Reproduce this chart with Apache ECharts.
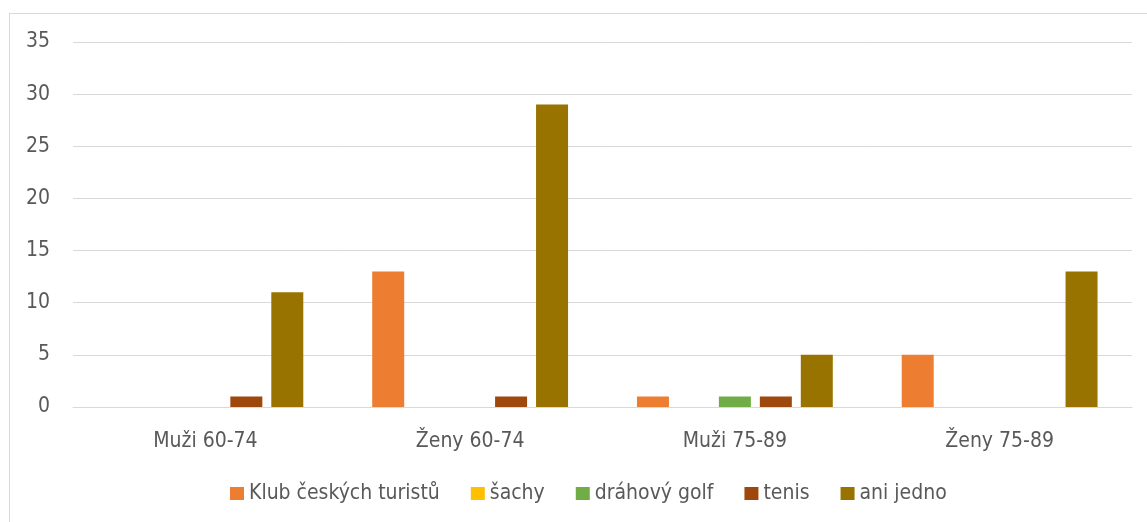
<!DOCTYPE html>
<html>
<head>
<meta charset="utf-8">
<script src="https://cdn.jsdelivr.net/npm/echarts@6/dist/echarts.min.js"></script>
<style>
  html, body { margin: 0; padding: 0; background: #fff; }
  #frame { position: absolute; left: 9px; top: 13px; width: 1200px; height: 600px;
           border-left: 1px solid #d9d9d9; border-top: 1px solid #d9d9d9; }
  #chart { position: absolute; left: 0; top: 0; width: 1147px; height: 522px; }
</style>
</head>
<body>
<div id="frame"></div>
<div id="chart"></div>
<script>
// kategorie
const categories = ["Muži 60-74", "Ženy 60-74", "Muži 75-89", "Ženy 75-89"];
const seriesNames = ["Klub českých turistů", "šachy", "dráhový golf", "tenis", "ani jedno"];
const colors = ["#ED7D31", "#FFC000", "#70AD47", "#9E480E", "#997300"];
// hodnoty
const klub = [0, 13, 1, 5];
const sachy = [0, 0, 0, 0];
const golf = [0, 0, 1, 0];
const tenis = [1, 1, 1, 0];
const aniJedno = [11, 29, 5, 13];
const values = [klub, sachy, golf, tenis, aniJedno];

const font = "'DejaVu Sans Condensed', 'Liberation Sans Narrow', Lato, sans-serif";
const myChart = echarts.init(document.getElementById("chart"));

let option = {
  animation: false,
  grid: { left: 73, right: 15, top: 42, bottom: 115 },
  legend: {
    top: 483,
    left: 230,
    padding: 0,
    icon: "rect",
    itemWidth: 14,
    itemHeight: 13,
    itemGap: 31,
    textStyle: { color: "#595959", fontSize: 21, fontFamily: font },
    data: seriesNames
  },
  xAxis: {
    type: "category",
    data: categories,
    axisTick: { show: false },
    axisLine: { show: true, lineStyle: { color: "#D9D9D9", width: 1 } },
    axisLabel: { color: "#595959", fontSize: 21, fontFamily: font, margin: 24 }
  },
  yAxis: {
    type: "value",
    min: 0,
    max: 35,
    interval: 5,
    axisLine: { show: false },
    axisTick: { show: false },
    axisLabel: { color: "#595959", fontSize: 21, fontFamily: font, margin: 23 },
    splitLine: { show: true, lineStyle: { color: "#D9D9D9", width: 1 } }
  },
  series: seriesNames.map((name, i) => ({
    name: name,
    type: "bar",
    barWidth: 32,
    barGap: "28%",
    itemStyle: { color: colors[i] },
    data: values[i]
  }))
};
myChart.setOption(option);
</script>
</body>
</html>
